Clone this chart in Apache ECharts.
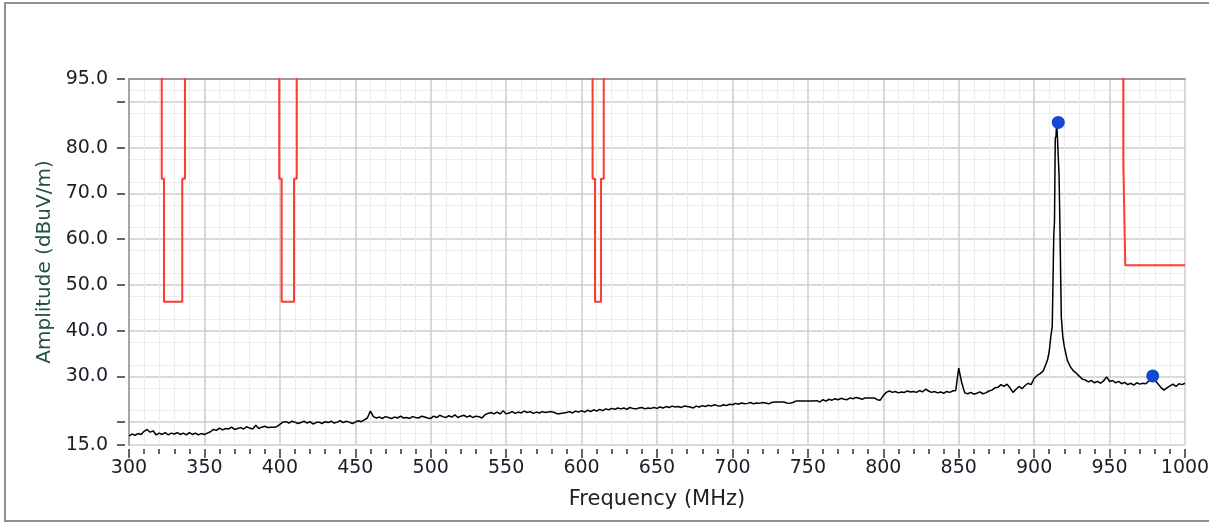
<!DOCTYPE html>
<html>
<head>
<meta charset="utf-8">
<script src="https://cdn.jsdelivr.net/npm/echarts@6/dist/echarts.min.js"></script>
<style>
  html, body { margin: 0; padding: 0; background: #ffffff; overflow: hidden; }
  #chart { width: 1209px; height: 524px; }
</style>
</head>
<body>
<div id="chart"></div>
<script>
// ---------------- DATA ----------------
// Axis ranges / ticks
const xMin = 300, xMax = 1000, xInterval = 50;
const yMin = 15, yMax = 95;
const yTickValues = [15, 20, 30, 40, 50, 60, 70, 80, 90, 95];
const yLabelValues = [15, 30, 40, 50, 60, 70, 80, 95];

// Measured trace, noise floor part: 300..898 MHz, one sample every 2 MHz
const floorStartMHz = 300;
const floorStepMHz = 2;
const floorAmp = [
  17.0, 17.4, 17.1, 17.5, 17.3, 18.0, 18.4, 17.8, 18.1, 17.2, 17.6, 17.3, 17.7, 17.2, 17.6, 17.4, 17.7, 17.3, 17.6, 17.2, 17.7, 17.3, 17.6, 17.2, 17.5,
  17.3, 17.6, 17.9, 18.4, 18.2, 18.7, 18.3, 18.6, 18.5, 18.9, 18.4, 18.6, 18.8, 18.5, 19.0, 18.7, 18.5, 19.3, 18.6, 18.9, 19.1, 18.8, 18.9, 18.9, 19.0,
  19.5, 20.0, 20.1, 19.8, 20.2, 20.0, 19.7, 19.9, 20.2, 19.8, 20.1, 19.6, 19.9, 20.0, 19.7, 20.1, 19.9, 20.2, 19.8, 20.0, 20.3, 19.9, 20.2, 20.0, 19.7,
  20.0, 20.3, 20.1, 20.5, 20.9, 22.4, 21.2, 20.9, 21.1, 20.8, 21.2, 21.0, 20.8, 21.1, 20.9, 21.3, 20.9, 21.0, 20.8, 21.2, 21.0, 20.9, 21.3, 21.1, 20.9,
  20.8, 21.3, 21.0, 21.5, 21.2, 21.0, 21.4, 21.1, 21.6, 21.0, 21.3, 21.5, 21.1, 21.4, 21.0, 21.3, 21.2, 20.9, 21.6, 21.9, 22.1, 21.8, 22.2, 21.8, 22.5,
  21.8, 22.0, 22.3, 21.9, 22.2, 22.0, 22.4, 22.1, 22.3, 21.9, 22.2, 22.0, 22.3, 22.1, 22.2, 22.3, 22.1, 21.8, 21.9, 22.0, 22.1, 22.3, 22.0, 22.4, 22.2,
  22.5, 22.2, 22.6, 22.3, 22.7, 22.4, 22.8, 22.5, 22.9, 22.7, 23.0, 22.8, 23.1, 22.9, 23.1, 22.8, 23.2, 23.0, 22.9, 23.1, 23.2, 22.9, 23.1, 23.0, 23.2,
  23.0, 23.3, 23.1, 23.4, 23.2, 23.5, 23.3, 23.4, 23.2, 23.5, 23.4, 23.3, 23.1, 23.5, 23.3, 23.6, 23.4, 23.7, 23.5, 23.8, 23.6, 23.5, 23.8, 23.6, 23.9,
  23.8, 24.1, 23.9, 24.2, 24.0, 24.1, 24.3, 24.0, 24.2, 24.1, 24.3, 24.2, 24.0, 24.3, 24.4, 24.4, 24.4, 24.4, 24.2, 24.1, 24.3, 24.6, 24.6, 24.6, 24.6,
  24.6, 24.6, 24.6, 24.7, 24.4, 24.9, 24.6, 25.0, 24.8, 25.1, 24.9, 25.2, 25.0, 24.9, 25.3, 25.1, 25.4, 25.2, 25.0, 25.3, 25.3, 25.3, 25.3, 24.9, 24.8,
  25.8, 26.5, 26.8, 26.5, 26.7, 26.4, 26.6, 26.5, 26.8, 26.6, 26.7, 26.5, 26.9, 26.6, 27.2, 26.8, 26.5, 26.7, 26.4, 26.6, 26.3, 26.7, 26.5, 26.8, 26.9,
  31.8, 28.6, 26.4, 26.2, 26.5, 26.1, 26.3, 26.6, 26.2, 26.4, 26.8, 27.0, 27.5, 27.6, 28.2, 27.8, 28.3, 27.5, 26.5, 27.2, 27.8, 27.3, 28.0, 28.5, 28.2
];

// Measured trace, signal part: 900..1000 MHz
const peakFreq = [900, 902, 904, 906, 908, 909, 910, 911, 912, 913, 913.5, 914, 914.5, 915, 915.5, 916, 916.5, 917, 918, 919, 920, 921, 922, 924, 926, 928, 930,
  932, 934, 936, 938, 940, 942, 944, 946, 948, 950, 952, 954, 956, 958, 960, 962, 964, 966, 968, 970, 972, 974, 976, 978, 980,
  982, 984, 986, 988, 990, 992, 994, 996, 998, 1000];
const peakAmp = [29.6, 30.2, 30.6, 31.2, 32.8, 33.8, 35.5, 38.5, 41.0, 60.5, 64.0, 82.0, 82.5, 85.6, 85.4, 85.2, 74.0, 64.9, 43.0, 38.7, 36.5, 35.0, 33.5, 32.1, 31.2, 30.7, 30.0,
  29.4, 29.2, 28.8, 29.1, 28.6, 28.9, 28.5, 29.0, 29.9, 28.9, 29.1, 28.6, 28.9, 28.4, 28.7, 28.2, 28.5, 28.1, 28.6, 28.3, 28.5, 28.4, 29.0, 30.1, 29.2,
  28.4, 27.6, 27.0, 27.5, 27.9, 28.3, 27.8, 28.4, 28.2, 28.5];

// Limit mask (red). Values above 95 sit off the top of the plot.
const maskFreq = [300, 321.7, 321.7, 323.2, 323.2, 335.3, 335.3, 337.1, 337.1,
  399.6, 399.6, 401.2, 401.2, 409.4, 409.4, 411.2, 411.2,
  607.3, 607.3, 608.9, 608.9, 612.9, 612.9, 614.7, 614.7,
  959.1, 959.1, 960.4, 960.4, 1000];
const maskAmp = [100, 100, 73.2, 73.2, 46.3, 46.3, 73.2, 73.2, 100,
  100, 73.2, 73.2, 46.3, 46.3, 73.2, 73.2, 100,
  100, 73.2, 73.2, 46.3, 46.3, 73.2, 73.2, 100,
  100, 77.0, 77.0, 54.3, 54.3];

// Peak markers
const markerFreq = [916, 978.6];
const markerAmp = [85.5, 30.1];

// ---------------- BUILD ----------------
const traceData = [];
floorAmp.forEach((v, i) => traceData.push([floorStartMHz + i * floorStepMHz, v]));
peakFreq.forEach((f, i) => traceData.push([f, peakAmp[i]]));
const maskData = maskFreq.map((f, i) => [f, maskAmp[i]]);
const markerData = markerFreq.map((f, i) => [f, markerAmp[i]]);

const FONT = 'DejaVu Sans';
const labelColor = '#1c1c2a';

const chart = echarts.init(document.getElementById('chart'), null, { renderer: 'canvas' });
chart.setOption({
  animation: false,
  backgroundColor: '#ffffff',
  graphic: [{
    type: 'polyline',
    z: -10,
    silent: true,
    shape: { points: [[1300, 3], [5, 3], [5, 521], [1300, 521]] },
    style: { fill: null, stroke: '#8e8e8e', lineWidth: 2 }
  }],
  grid: { left: 129, right: 24, top: 79, bottom: 79, containLabel: false, outerBoundsMode: 'none' },
  xAxis: [
    {
      type: 'value', min: xMin, max: xMax, interval: xInterval, position: 'bottom',
      axisLine: { show: false }, axisTick: { show: false }, axisLabel: { show: false },
      splitLine: { show: true, lineStyle: { color: '#cdcdcd', width: 1.5 } },
      minorTick: { show: false, splitNumber: 5 },
      minorSplitLine: { show: true, lineStyle: { color: '#ececec', width: 1 } }
    },
    {
      type: 'value', min: xMin, max: xMax, interval: xInterval, position: 'bottom', offset: 4,
      axisLine: { show: false },
      axisTick: { show: true, length: 9, lineStyle: { color: '#333333', width: 1.5 } },
      minorTick: { show: true, splitNumber: 5, length: 5, lineStyle: { color: '#333333', width: 1.5 } },
      axisLabel: { show: true, margin: 10, fontFamily: FONT, fontSize: 19, color: labelColor,
        formatter: v => String(v), hideOverlap: false },
      splitLine: { show: false },
      name: 'Frequency (MHz)', nameLocation: 'middle', nameGap: 40,
      nameTextStyle: { fontFamily: FONT, fontSize: 21, color: '#222222' }
    },
    {
      type: 'value', min: xMin, max: xMax, interval: xInterval, position: 'top',
      axisLine: { show: true, lineStyle: { color: '#9c9c9c', width: 2 } },
      axisTick: { show: false }, axisLabel: { show: false }, splitLine: { show: false }
    }
  ],
  yAxis: [
    {
      type: 'value', min: yMin, max: yMax, interval: 5, position: 'left',
      axisLine: { show: true, lineStyle: { color: '#a6a6a6', width: 2 } },
      axisTick: { show: false, customValues: yTickValues },
      axisLabel: { show: false },
      splitLine: { show: true, lineStyle: { color: '#cdcdcd', width: 1.5 } },
      minorTick: { show: false, splitNumber: 2 },
      minorSplitLine: { show: true, lineStyle: { color: '#ececec', width: 1 } },
      name: 'Amplitude (dBuV/m)', nameLocation: 'middle', nameGap: 74,
      nameTextStyle: { fontFamily: FONT, fontSize: 20, color: '#23513f' }
    },
    {
      type: 'value', min: yMin, max: yMax, interval: 5, position: 'left', offset: 4,
      axisLine: { show: false },
      axisTick: { show: true, length: 8, customValues: yTickValues, lineStyle: { color: '#333333', width: 1.5 } },
      axisLabel: {
        show: true, customValues: yLabelValues, margin: 17,
        fontFamily: FONT, fontSize: 19, color: labelColor,
        formatter: v => Number(v).toFixed(1)
      },
      splitLine: { show: false }
    }
  ],
  series: [
    {
      type: 'line', name: 'Limit', xAxisIndex: 0, yAxisIndex: 0,
      data: maskData, showSymbol: false, symbol: 'none', clip: true,
      lineStyle: { color: '#ff3b2e', width: 2 }, z: 3
    },
    {
      type: 'line', name: 'Trace', xAxisIndex: 0, yAxisIndex: 0,
      data: traceData, showSymbol: false, symbol: 'none', clip: true,
      lineStyle: { color: '#000000', width: 1.5 }, z: 4
    },
    {
      type: 'scatter', name: 'Markers', xAxisIndex: 0, yAxisIndex: 0,
      data: markerData, symbol: 'circle', symbolSize: 13,
      itemStyle: { color: '#1248d2', opacity: 1 }, z: 5
    }
  ]
});
</script>
</body>
</html>
